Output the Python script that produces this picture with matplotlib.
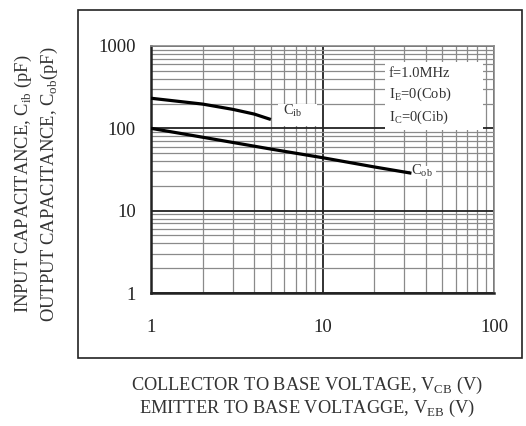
import matplotlib
matplotlib.use("Agg")
import matplotlib.pyplot as plt
import numpy as np
from matplotlib.patches import Rectangle
from matplotlib.ticker import LogLocator, FixedLocator, NullFormatter

plt.rcParams['font.family'] = ['Liberation Serif', 'DejaVu Serif']
plt.rcParams['mathtext.fontset'] = 'custom'
plt.rcParams['mathtext.rm'] = 'Liberation Serif'

# curves
cib_v = [1, 2, 3, 4, 5]
cib_c = [232, 197, 170, 149, 128]
cob_v = [1, 2, 5, 10, 20, 33]
cob_c = [100, 78, 56, 44, 34, 28.5]

x_ticks = [1, 10, 100]
x_labels = ['1', '10', '100']
y_ticks = [1, 10, 100, 1000]
y_labels = ['1', '10', '100', '1000']

W, H = 526, 426
fig = plt.figure(figsize=(W / 100, H / 100), dpi=100)

# outer frame around the chart
fig.patches.append(Rectangle((78 / W, 1 - 358 / H), (522 - 78) / W, (358 - 10) / H,
                             transform=fig.transFigure, fill=False,
                             edgecolor='#222222', lw=1.2))

ax = fig.add_axes([151 / W, 1 - 293 / H, (494 - 151) / W, (293 - 46) / H])
ax.set_xscale('log')
ax.set_yscale('log')
ax.set_xlim(1, 100)
ax.set_ylim(1, 1000)

ax.xaxis.set_minor_locator(LogLocator(base=10, subs=np.arange(2, 10)))
ax.yaxis.set_minor_locator(LogLocator(base=10, subs=np.arange(2, 10)))
ax.xaxis.set_minor_formatter(NullFormatter())
ax.yaxis.set_minor_formatter(NullFormatter())
ax.xaxis.set_major_locator(FixedLocator(x_ticks))
ax.yaxis.set_major_locator(FixedLocator(y_ticks))
ax.set_xticklabels(x_labels)
ax.set_yticklabels(y_labels)
ax.tick_params(which='both', length=0)
ax.tick_params(axis='x', pad=19, labelsize=13.5, labelcolor='#222222')
ax.tick_params(axis='y', pad=11, labelsize=13.5, labelcolor='#222222')

ax.grid(which='minor', color='#8a8a8a', lw=0.9)
ax.grid(which='major', color='#222222', lw=1.3)
ax.set_axisbelow(True)

for side in ['left', 'bottom']:
    ax.spines[side].set_color('#222222')
    ax.spines[side].set_linewidth(1.8)
for side in ['top', 'right']:
    ax.spines[side].set_color('#8a8a8a')
    ax.spines[side].set_linewidth(1.2)

ax.plot(cib_v, cib_c, color='black', lw=2.3, solid_capstyle='butt', zorder=3)
ax.plot(cob_v, cob_c, color='black', lw=2.3, solid_capstyle='butt', zorder=3)

# white patches that blank the grid behind the labels
for (x0, x1, y0, y1) in [(5.5, 9.3, 108, 195), (32.5, 46, 24.5, 35), (23.1, 86, 95, 640)]:
    ax.add_patch(Rectangle((x0, y0), x1 - x0, y1 - y0, facecolor='white',
                           edgecolor='none', zorder=2))

ax.text(5.85, 131, r'C$_{\mathregular{ib}}$', fontsize=10.5, color='#333333',
        ha='left', va='bottom', zorder=4)
ax.text(33, 24.5, r'C$_{\mathregular{ob}}$', fontsize=10.5, color='#333333',
        ha='left', va='bottom', zorder=4)
ax.text(24.3, 107, 'f=1.0MHz\nI$_{\\mathregular{E}}$=0(Cob)\nI$_{\\mathregular{C}}$=0(Cib)',
        fontsize=10.5, color='#333333', ha='left', va='bottom', linespacing=1.45,
        zorder=4)

fig.text(36.5 / W, 1 - 184 / H, 'INPUT CAPACITANCE, C$_{\\mathregular{ib}}$ (pF)\n'
         'OUTPUT CAPACITANCE, C$_{\\mathregular{ob}}$(pF)',
         rotation=90, ha='center', va='center', fontsize=13.3, color='#333333',
         linespacing=1.32, multialignment='center')
fig.text(307 / W, 1 - 397 / H, 'COLLECTOR TO BASE VOLTAGE, V$_{\\mathregular{CB}}$ (V)\n'
         'EMITTER TO BASE VOLTAGGE, V$_{\\mathregular{EB}}$ (V)',
         ha='center', va='center', fontsize=13.2, color='#333333',
         linespacing=1.15, multialignment='center')

fig.savefig('out.png', dpi=100)
